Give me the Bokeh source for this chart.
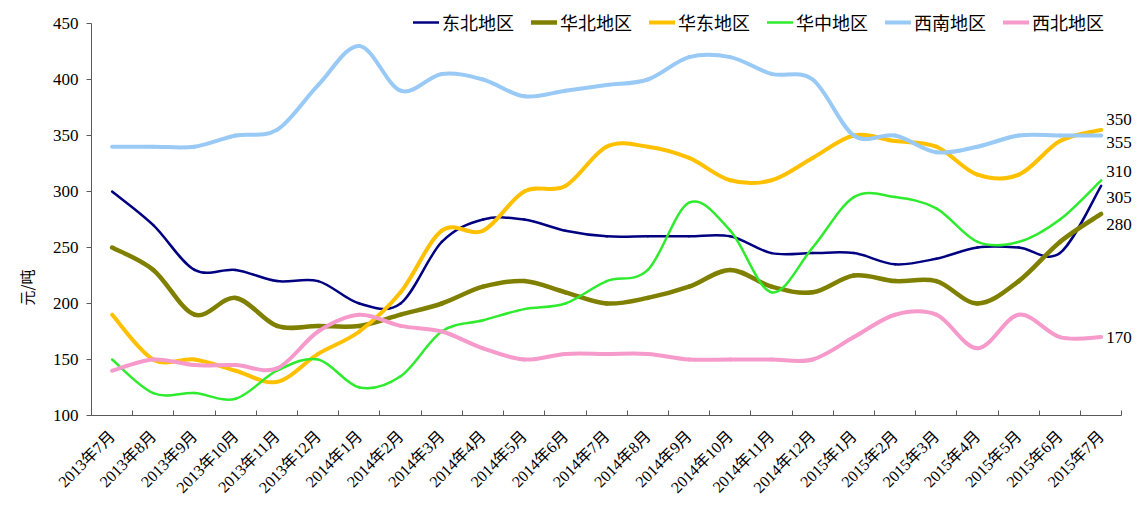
import math
from bokeh.plotting import figure
from bokeh.models import (Range1d, FixedTicker, Legend, LegendItem, ColumnDataSource,
                          LabelSet, Title)
from bokeh.core.properties import value
from bokeh.embed import file_html
from bokeh.resources import INLINE

months = ["2013年7月", "2013年8月", "2013年9月", "2013年10月", "2013年11月", "2013年12月",
          "2014年1月", "2014年2月", "2014年3月", "2014年4月", "2014年5月", "2014年6月",
          "2014年7月", "2014年8月", "2014年9月", "2014年10月", "2014年11月", "2014年12月",
          "2015年1月", "2015年2月", "2015年3月", "2015年4月", "2015年5月", "2015年6月",
          "2015年7月"]

dongbei = [300, 270, 230, 230, 220, 220, 200, 200, 255, 275, 275, 265, 260, 260, 260, 260,
           245, 245, 245, 235, 240, 250, 250, 245, 305]
huabei = [250, 230, 190, 205, 180, 180, 180, 190, 200, 215, 220, 210, 200, 205, 215, 230,
          215, 210, 225, 220, 220, 200, 220, 255, 280]
huadong = [190, 150, 150, 140, 130, 155, 175, 210, 265, 265, 300, 305, 340, 340, 330, 310,
           310, 330, 350, 345, 340, 315, 315, 345, 355]
huazhong = [150, 120, 120, 115, 140, 150, 125, 135, 175, 185, 195, 200, 220, 230, 290, 265,
            210, 250, 295, 295, 285, 255, 255, 275, 310]
xinan = [340, 340, 340, 350, 355, 395, 430, 390, 405, 400, 385, 390, 395, 400, 420, 420,
         405, 400, 350, 350, 335, 340, 350, 350, 350]
xibei = [140, 150, 145, 145, 142, 175, 190, 180, 175, 160, 150, 155, 155, 155, 150, 150,
         150, 150, 170, 190, 190, 160, 190, 170, 170]

y_ticks = [100, 150, 200, 250, 300, 350, 400, 450]

series_names = ["东北地区", "华北地区", "华东地区", "华中地区", "西南地区", "西北地区"]
series_data = [dongbei, huabei, huadong, huazhong, xinan, xibei]
colors = ["#000080", "#808000", "#FFC000", "#2EEB2E", "#99C9F5", "#F59ACB"]
widths = [2.5, 4.5, 4, 2.5, 4, 4]
label_offsets = [-12, -11, -13, 9, 16, 0]  # pixel offsets for end labels (style)

SERIF = "Liberation Serif, Noto Sans CJK SC"

W, H = 1135, 505
LEFT, RIGHT, TOP, BOTTOM = 90, 0, 2, 90
PX_PER_CAT = 41.25
PX_PER_UNIT = 392.0 / 350.0
x_max = -0.5 + (W - LEFT - RIGHT) / PX_PER_CAT
y_max = 100 + (H - TOP - BOTTOM) / PX_PER_UNIT

p = figure(width=W, height=H, output_backend="svg", toolbar_location=None,
           x_range=Range1d(-0.5, x_max), y_range=Range1d(100, y_max),
           min_border_left=LEFT, min_border_right=RIGHT, min_border_top=TOP,
           min_border_bottom=BOTTOM)
p.outline_line_color = None
p.xgrid.grid_line_color = None
p.ygrid.grid_line_color = None
p.background_fill_color = "white"

xs = list(range(len(months)))


def bezier_source(ys):
    n = len(ys)
    d = dict(x0=[], y0=[], x1=[], y1=[], cx0=[], cy0=[], cx1=[], cy1=[])
    for i in range(n - 1):
        ip = max(i - 1, 0)
        inx = min(i + 2, n - 1)
        d["x0"].append(xs[i]); d["y0"].append(ys[i])
        d["x1"].append(xs[i + 1]); d["y1"].append(ys[i + 1])
        d["cx0"].append(xs[i] + (xs[i + 1] - xs[ip]) / 6.0)
        d["cy0"].append(ys[i] + (ys[i + 1] - ys[ip]) / 6.0)
        d["cx1"].append(xs[i + 1] - (xs[inx] - xs[i]) / 6.0)
        d["cy1"].append(ys[i + 1] - (ys[inx] - ys[i]) / 6.0)
    return ColumnDataSource(d)


items = []
for name, ys, c, w in zip(series_names, series_data, colors, widths):
    src = bezier_source(ys)
    r = p.bezier(x0="x0", y0="y0", x1="x1", y1="y1", cx0="cx0", cy0="cy0",
                 cx1="cx1", cy1="cy1", source=src, line_color=c, line_width=w,
                 line_cap="round")
    items.append(LegendItem(label=name, renderers=[r]))

# end labels
lab_src = ColumnDataSource(dict(
    x=[xs[-1]] * len(series_data),
    y=[s[-1] for s in series_data],
    t=[str(s[-1]) for s in series_data],
    off=label_offsets,
))
labels = LabelSet(x="x", y="y", text="t", source=lab_src, x_offset=5, y_offset="off",
                  text_font=value(SERIF), text_font_size="17px", text_color="#000000",
                  text_align="left", text_baseline="middle")
p.add_layout(labels)

legend = Legend(items=items, orientation="horizontal", location=(322, 380),
                glyph_width=26, glyph_height=20, label_height=20, label_standoff=3,
                spacing=17, padding=0, margin=0, border_line_color=None,
                background_fill_alpha=0, label_text_font="Noto Sans CJK SC",
                label_text_font_size="18px", label_text_color="#000000")
p.add_layout(legend, "center")

# x axis
xa = p.xaxis[0]
xa.bounds = (-0.5, len(months) - 0.5)
xa.ticker = FixedTicker(ticks=xs, minor_ticks=[i + 0.5 for i in range(-1, len(months))])
xa.major_label_overrides = {i: m for i, m in enumerate(months)}
xa.major_label_orientation = math.pi / 4
xa.major_tick_line_color = None
xa.minor_tick_in = 5
xa.minor_tick_out = 0
xa.minor_tick_line_color = "#595959"
xa.axis_line_color = "#595959"
xa.major_label_text_font = SERIF
xa.major_label_text_font_size = "16px"
xa.major_label_text_color = "#000000"
xa.major_label_standoff = 12

# y axis
ya = p.yaxis[0]
ya.bounds = (y_ticks[0], y_ticks[-1])
ya.ticker = FixedTicker(ticks=y_ticks)
ya.minor_tick_line_color = None
ya.major_tick_in = 0
ya.major_tick_out = 5
ya.major_tick_line_color = "#595959"
ya.axis_line_color = "#595959"
ya.major_label_text_font = SERIF
ya.major_label_text_font_size = "17px"
ya.major_label_text_color = "#000000"
ya.major_label_standoff = 8

ytitle = Title(text="元/吨", align="left", offset=110, standoff=26,
               text_font="Noto Sans CJK SC", text_font_size="15px",
               text_font_style="normal", text_color="#000000")
p.add_layout(ytitle, "left")

open("out.html", "w").write(file_html(p, INLINE))
